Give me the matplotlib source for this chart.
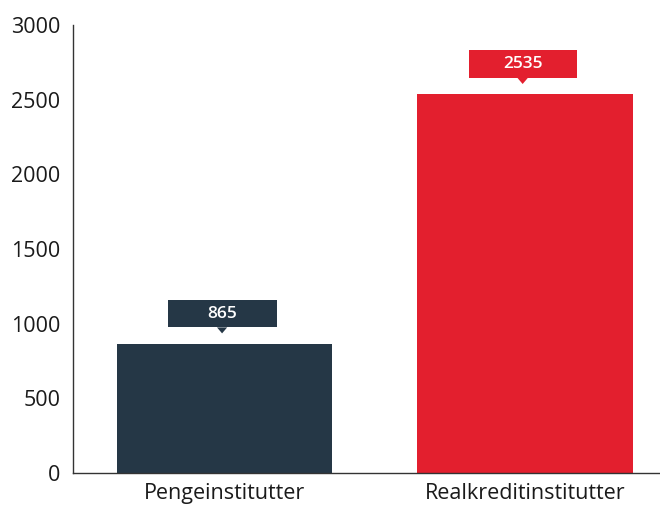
import matplotlib.pyplot as plt
from matplotlib.patches import Rectangle, Polygon

kategorier = ["Pengeinstitutter", "Realkreditinstitutter"]
vaerdier = [865, 2535]
farver = ["#253746", "#E31F2E"]
yticks = [0, 500, 1000, 1500, 2000, 2500, 3000]

plt.rcParams['font.family'] = ['Open Sans', 'DejaVu Sans']

fig = plt.figure(figsize=(6.6, 5.05), dpi=100)
ax = fig.add_axes([73 / 660, 32 / 505, 587 / 660, 448 / 505])

x = range(len(kategorier))
ax.bar(x, vaerdier, width=0.716, color=farver)

# label boxes with a small pointer
for xi, v, c in zip(x, vaerdier, farver):
    bund = v + 110
    ax.add_patch(Rectangle((xi - 0.188, bund), 0.362, 185, color=c, lw=0))
    ax.add_patch(Polygon([(xi - 0.025, bund), (xi + 0.009, bund), (xi - 0.008, bund - 40)],
                         closed=True, color=c, lw=0))
    ax.text(xi - 0.008, bund + 92, str(v), color="white", ha="center", va="center",
            fontsize=12.5, fontweight="semibold")

ax.set_xlim(-0.504, 1.449)
ax.set_ylim(0, 3000)
ax.set_yticks(yticks)
ax.set_xticks(list(x))
ax.set_xticklabels(kategorier)
ax.tick_params(length=0, labelsize=15.5, colors="#1a1a1a")
ax.tick_params(axis="y", pad=9)
ax.tick_params(axis="x", pad=7)
for s in ["top", "right"]:
    ax.spines[s].set_visible(False)
for s in ["left", "bottom"]:
    ax.spines[s].set_color("#333333")
    ax.spines[s].set_linewidth(1)

fig.savefig("out.png", dpi=100)
